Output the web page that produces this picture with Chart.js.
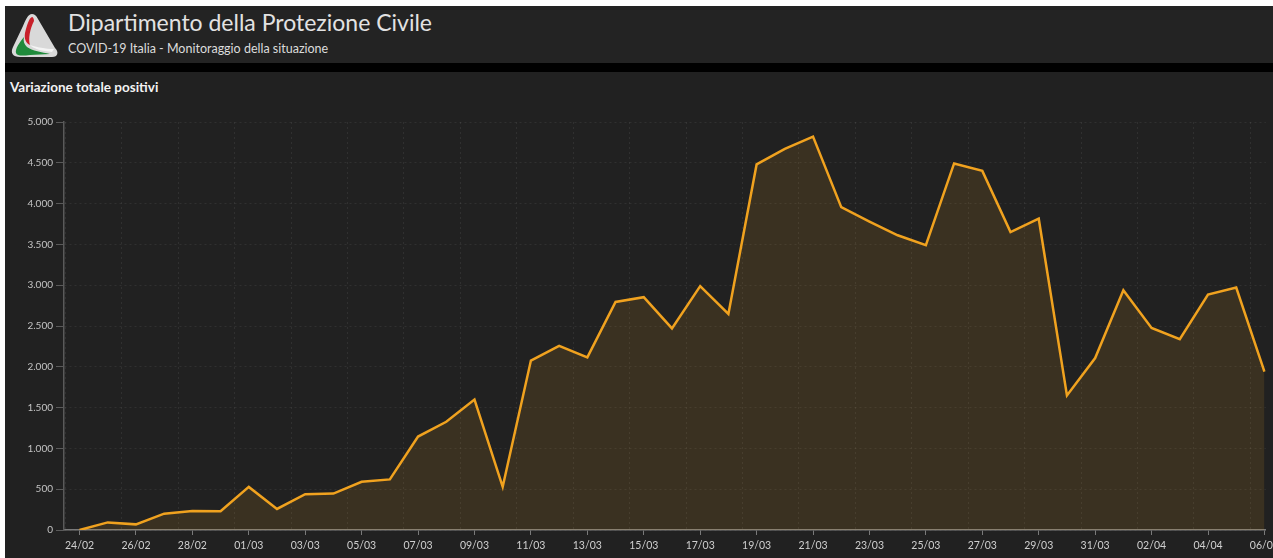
<!DOCTYPE html>
<html>
<head>
<meta charset="utf-8">
<script src="https://cdn.jsdelivr.net/npm/chart.js@4.4.1/dist/chart.umd.min.js"></script>
<style>
  html, body { margin:0; padding:0; background:#ffffff; width:1273px; height:558px; overflow:hidden; }
  #header { position:absolute; left:5px; top:6px; width:1268px; height:57px; background:#232323; }
  #blackbar { position:absolute; left:5px; top:63px; width:1268px; height:9px; background:#000; }
  #panel { position:absolute; left:5px; top:72px; width:1268px; height:486px; background:#212121; }
  #logo { position:absolute; left:8px; top:11px; width:52px; height:48px; }
  #title { position:absolute; left:68px; top:8px; font-family:Lato, "Noto Sans", sans-serif; font-size:23px; color:#e2e2e2; white-space:nowrap; letter-spacing:0px; }
  #subtitle { position:absolute; left:68px; top:41px; font-family:Lato, "Noto Sans", sans-serif; font-size:12.5px; color:#dcdcdc; white-space:nowrap; }
  #ctitle { position:absolute; left:10px; top:79px; font-family:Lato, "Noto Sans", sans-serif; font-weight:bold; font-size:13.5px; color:#f2f2f2; white-space:nowrap; }
  #wrap { position:absolute; left:5px; top:100px; width:1278px; height:458px; }
</style>
</head>
<body>
<div id="header"></div>
<div id="blackbar"></div>
<div id="panel"></div>
<svg id="logo" viewBox="0 0 52 48">
  <path d="M24 3 C20 3 18 8 15 15 L5 36 C2 42 5 46 12 46 L44 46 C50 46 51 41 47 37 L30 8 C28 4 26 3 24 3 Z" fill="#d9d9d9"/>
  <path d="M24 6 C21 7 19 14 17 22 C16 28 18 32 22 34 C20 28 22 18 26 10 C26 8 25 6 24 6 Z" fill="#c8202a"/>
  <path d="M16 26 C11 32 7 38 8 42 C9 45 14 45 22 44 L42 43 C34 41 24 40 19 36 C16 33 15 30 16 26 Z" fill="#1f8a3b"/>
  <path d="M22 34 C26 38 34 40 44 41 L46 38 C38 38 28 36 22 34 Z" fill="#f4f4f4"/>
</svg>
<div id="title">Dipartimento della Protezione Civile</div>
<div id="subtitle">COVID-19 Italia - Monitoraggio della situazione</div>
<div id="ctitle">Variazione totale positivi</div>
<div id="wrap"><canvas id="c" width="1278" height="458"></canvas></div>
<script>
const dates = ["24/02","25/02","26/02","27/02","28/02","29/02","01/03","02/03","03/03","04/03","05/03","06/03","07/03","08/03","09/03","10/03","11/03","12/03","13/03","14/03","15/03","16/03","17/03","18/03","19/03","20/03","21/03","22/03","23/03","24/03","25/03","26/03","27/03","28/03","29/03","30/03","31/03","01/04","02/04","03/04","04/04","05/04","06/04"];
const variazione = [0,93,69,200,233,229,528,258,439,446,591,620,1145,1326,1598,529,2076,2256,2116,2795,2853,2470,2989,2648,4480,4670,4821,3957,3780,3612,3491,4492,4401,3651,3815,1648,2107,2937,2477,2339,2886,2972,1941];
const labelIdx = [0,2,4,6,8,10,12,14,16,18,20,22,24,26,28,30,32,34,36,38,40,42];
const gridIdx = [-0.5,1.5,3.5,5.5,7.5,9.5,11.5,13.5,15.5,17.5,19.5,21.5,23.5,25.5,27.5,29.5,31.5,33.5,35.5,37.5,39.5,41.5];
const yTicks = [0,500,1000,1500,2000,2500,3000,3500,4000,4500,5000];

function fmt(v){ return String(v).replace(/\B(?=(\d{3})+(?!\d))/g, "."); }

const points = variazione.map((v,i)=>({x:i, y:v}));

new Chart(document.getElementById('c'), {
  type: 'line',
  data: { datasets: [{
    data: points,
    borderColor: '#f0a21f',
    borderWidth: 2.5,
    backgroundColor: 'rgba(240,162,31,0.12)',
    fill: 'origin',
    pointRadius: 0,
    tension: 0
  }]},
  options: {
    responsive: false,
    animation: false,
    layout: { autoPadding: false, padding: { top: 22, right: 8, left: 0, bottom: 0 } },
    plugins: { legend: { display:false }, tooltip: { enabled:false } },
    scales: {
      x: {
        type: 'linear', position: 'bottom', min: -0.55, max: 42.05,
        afterBuildTicks: s => { s.ticks = labelIdx.map(v=>({value:v})); },
        afterFit: s => { s.height = 28; },
        ticks: { callback: v => dates[v], color:'#cfcfcf', font:{ family:'Lato, "Noto Sans", sans-serif', size:10.5 }, padding: 4, maxRotation:0, autoSkip:false },
        grid: { drawOnChartArea:false, drawTicks:true, tickLength:5, tickColor:'#7a7a7a' },
        border: { display:true, color:'#7a7a7a', width:1.5 }
      },
      xg: {
        type: 'linear', position: 'top', min: -0.55, max: 42.05,
        afterBuildTicks: s => { s.ticks = gridIdx.map(v=>({value:v})); },
        afterFit: s => { s.height = 0; },
        ticks: { display:false },
        grid: { drawOnChartArea:true, drawTicks:false, color:'rgba(255,255,255,0.07)', lineWidth:1 },
        border: { display:false, dash:[2,3] }
      },
      y: {
        min: 0, max: 5000,
        afterBuildTicks: s => { s.ticks = yTicks.map(v=>({value:v})); },
        afterFit: s => { s.width = 59; },
        ticks: { callback: v => fmt(v), color:'#c4c4c4', font:{ family:'Lato, "Noto Sans", sans-serif', size:10 }, padding: 3 },
        grid: { color:'rgba(255,255,255,0.07)', tickColor:'#5a5a5a', tickLength:8, drawTicks:true },
        border: { display:true, color:'#5a5a5a', width:1.5, dash:[2,3] }
      }
    }
  }
});
</script>
</body>
</html>
